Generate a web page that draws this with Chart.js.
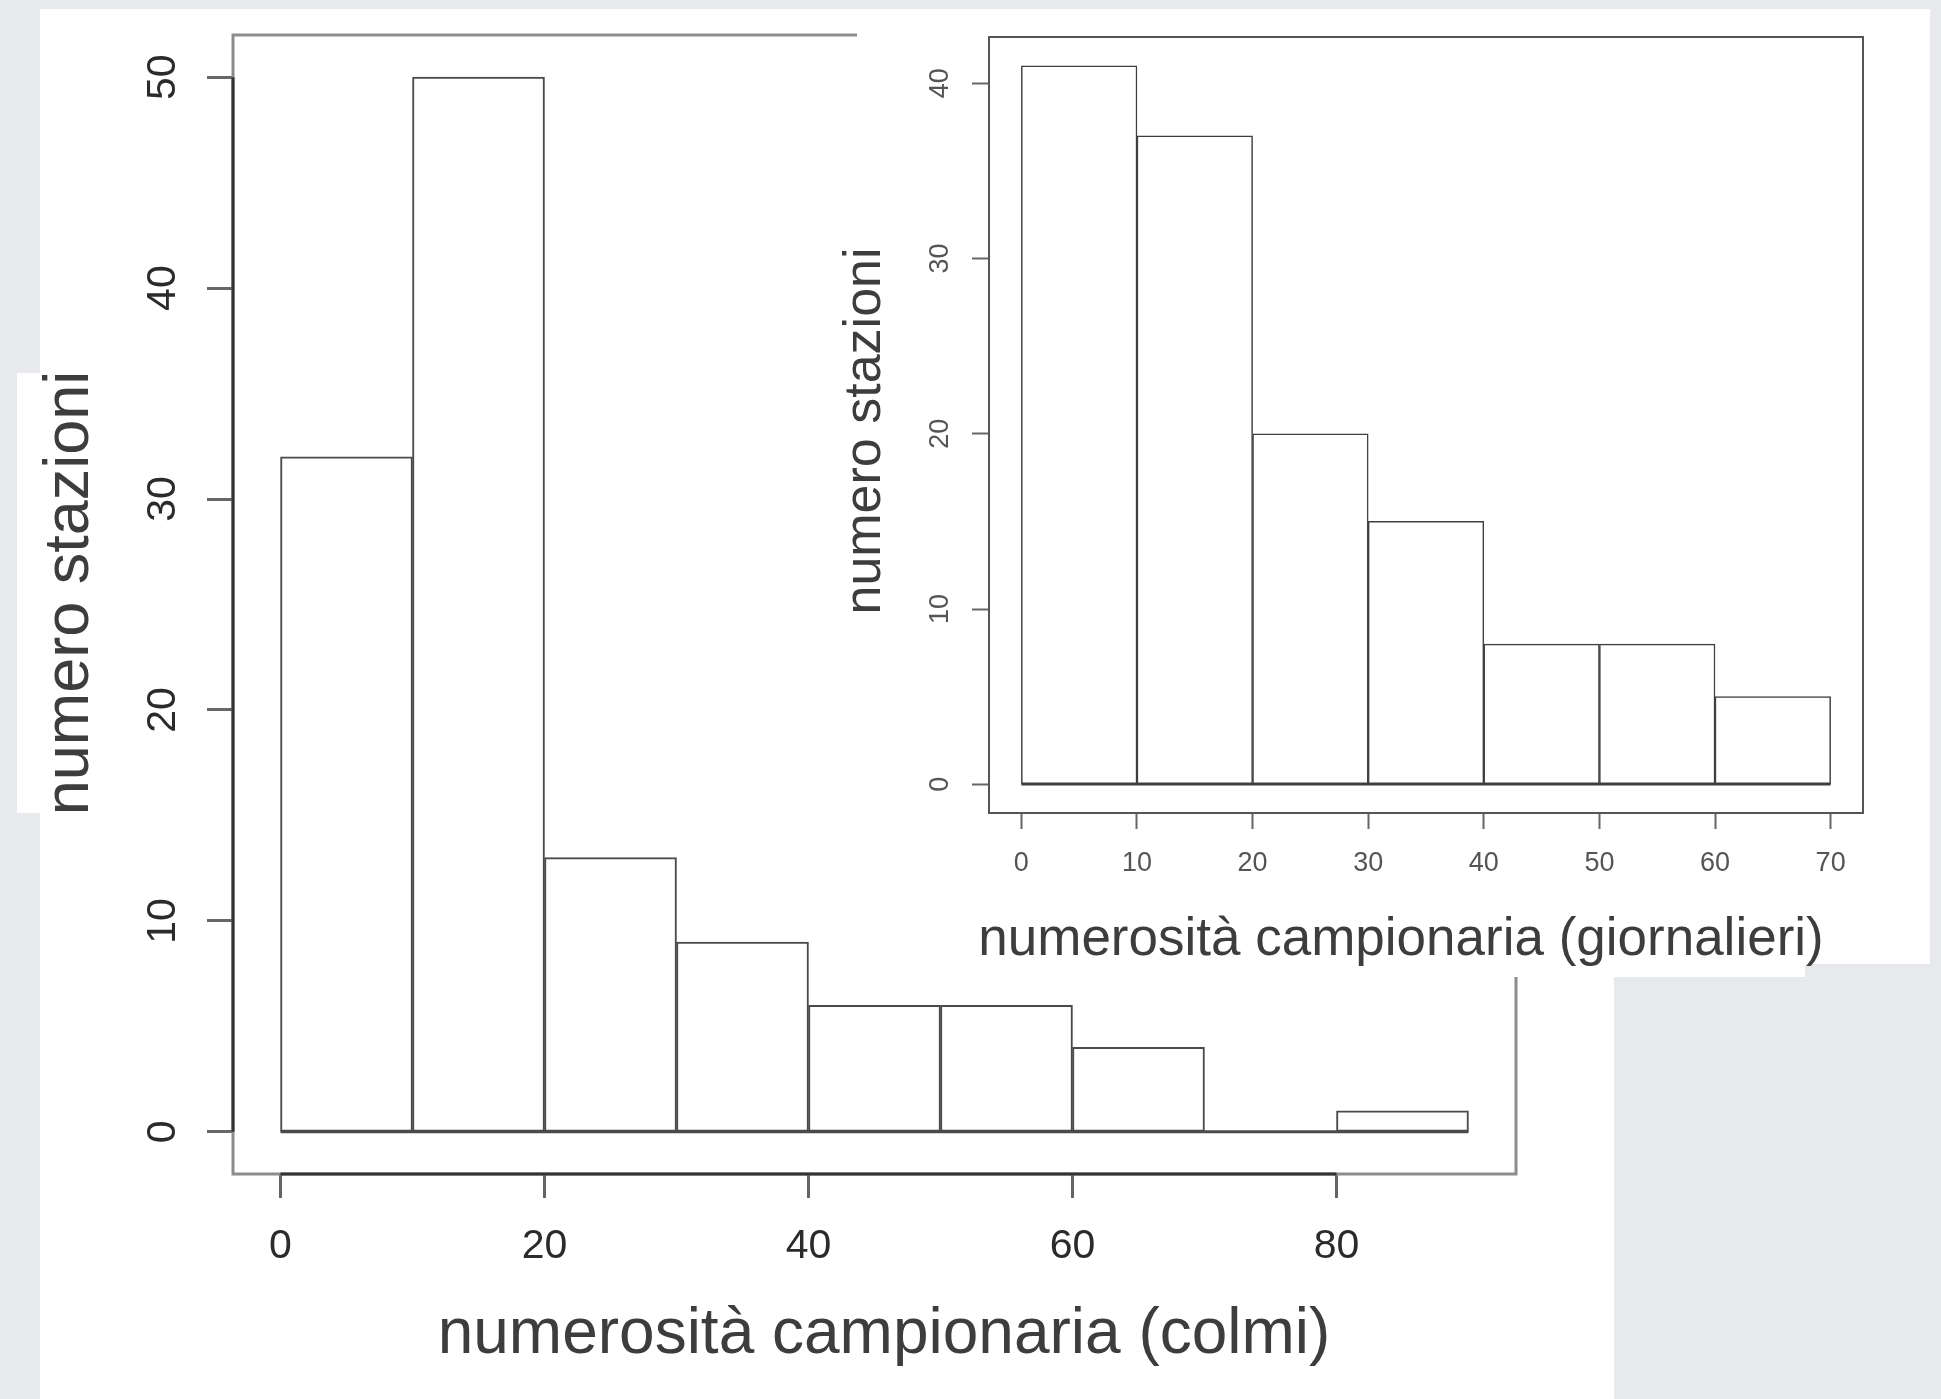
<!DOCTYPE html>
<html lang="it">
  <head>
    <meta charset="UTF-8" />
    <title>Numerosità campionaria</title>
    <script src="https://cdn.jsdelivr.net/npm/chart.js"></script>
    <style>
      body {
        margin: 0;
        width: 1941px;
        height: 1399px;
        overflow: hidden;
        position: relative;
        background: #e7e9ec;
      }
      .pannello {
        position: absolute;
        background: #fff;
      }
      #pannelloColmi { left: 40px; top: 9px; width: 1574px; height: 1390px; }
      #fasciaTitoloY { left: 17px; top: 373px; width: 30px; height: 440px; }
      #pannelloGiornalieri { left: 857px; top: 9px; width: 1073px; height: 955px; }
      #bordoGiornalieri { left: 857px; top: 964px; width: 948px; height: 13px; }
      canvas { position: absolute; }
      #colmiChart { left: 0; top: 0; }
      #giornalieriChart { left: 830px; top: 9px; }
    </style>
  </head>
  <body>
    <div class="pannello" id="pannelloColmi"></div>
    <div class="pannello" id="fasciaTitoloY"></div>
    <canvas id="colmiChart" width="1941" height="1399"></canvas>
    <div class="pannello" id="pannelloGiornalieri"></div>
    <div class="pannello" id="bordoGiornalieri"></div>
    <canvas id="giornalieriChart" width="1100" height="968"></canvas>

    <script>
      // istogramma colmi
      const colmiEdges = [0, 10, 20, 30, 40, 50, 60, 70, 80, 90];
      const colmiCounts = [32, 50, 13, 9, 6, 6, 4, 0, 1];
      const colmiXTicks = [0, 20, 40, 60, 80];
      const colmiYTicks = [0, 10, 20, 30, 40, 50];

      // istogramma giornalieri
      const giornEdges = [0, 10, 20, 30, 40, 50, 60, 70];
      const giornCounts = [41, 37, 20, 15, 8, 8, 5];
      const giornXTicks = [0, 10, 20, 30, 40, 50, 60, 70];
      const giornYTicks = [0, 10, 20, 30, 40];

      const FONT = "'Liberation Sans', Arial, Helvetica, sans-serif";

      function istogramma(id, cfg) {
        const punti = cfg.counts.map((n, i) => ({
          x: (cfg.edges[i] + cfg.edges[i + 1]) / 2,
          y: n,
        }));
        const lo = cfg.edges[0];
        const hi = cfg.edges[cfg.edges.length - 1];
        const top = Math.max(...cfg.counts);
        // come in R: range allargato del 4%
        const dx = (hi - lo) * 0.04;
        const dy = top * 0.04;

        const cornice = {
          id: "cornice",
          beforeDatasetsDraw(chart) {
            const { ctx, chartArea: a, scales } = chart;
            ctx.save();
            ctx.strokeStyle = cfg.boxColor;
            ctx.lineWidth = cfg.boxWidth;
            ctx.strokeRect(a.left, a.top, a.right - a.left, a.bottom - a.top);
            // linee degli assi, dal primo all'ultimo tick
            ctx.strokeStyle = cfg.axisColor;
            ctx.beginPath();
            ctx.moveTo(a.left, scales.y.getPixelForValue(cfg.yTicks[0]));
            ctx.lineTo(a.left, scales.y.getPixelForValue(cfg.yTicks[cfg.yTicks.length - 1]));
            ctx.moveTo(scales.x.getPixelForValue(cfg.xTicks[0]), a.bottom);
            ctx.lineTo(scales.x.getPixelForValue(cfg.xTicks[cfg.xTicks.length - 1]), a.bottom);
            ctx.stroke();
            ctx.restore();
          },
          afterDatasetsDraw(chart) {
            const { ctx, scales } = chart;
            ctx.save();
            // base comune delle barre (serve per le classi vuote)
            const y0 = scales.y.getPixelForValue(0);
            ctx.strokeStyle = cfg.barColor;
            ctx.lineWidth = cfg.barWidth * 1.5;
            ctx.beginPath();
            ctx.moveTo(scales.x.getPixelForValue(lo), y0);
            ctx.lineTo(scales.x.getPixelForValue(hi), y0);
            ctx.stroke();

            // titoli degli assi
            ctx.fillStyle = "#3d3d3d";
            ctx.textAlign = "center";
            ctx.textBaseline = "alphabetic";
            const tx = cfg.titles.x;
            ctx.font = tx.size + "px " + FONT;
            ctx.fillText(tx.text, tx.cx, tx.base);
            const ty = cfg.titles.y;
            ctx.font = ty.size + "px " + FONT;
            ctx.translate(ty.base, ty.cy);
            ctx.rotate(-Math.PI / 2);
            ctx.fillText(ty.text, 0, 0);
            ctx.restore();
          },
        };

        return new Chart(document.getElementById(id), {
          type: "bar",
          data: {
            datasets: [
              {
                data: punti,
                backgroundColor: "#ffffff",
                borderColor: cfg.barColor,
                borderWidth: cfg.barWidth,
                borderSkipped: false,
                barPercentage: 1,
                categoryPercentage: 1,
              },
            ],
          },
          options: {
            responsive: false,
            animation: false,
            events: [],
            layout: { padding: cfg.padding },
            plugins: {
              legend: { display: false },
              tooltip: { enabled: false },
            },
            scales: {
              x: {
                type: "linear",
                min: lo - dx,
                max: hi + dx,
                offset: false,
                afterBuildTicks: (s) => {
                  s.ticks = cfg.xTicks.map((v) => ({ value: v }));
                },
                afterFit: (s) => {
                  s.height = cfg.xAxisHeight;
                  s.paddingLeft = 0;
                  s.paddingRight = 0;
                },
                border: { display: false },
                grid: {
                  offset: false,
                  drawOnChartArea: false,
                  tickLength: cfg.xTickLen,
                  tickColor: cfg.tickColor,
                  tickWidth: cfg.tickWidth,
                },
                ticks: {
                  autoSkip: false,
                  maxRotation: 0,
                  padding: cfg.xTickPad,
                  color: cfg.labelColor,
                  font: { family: FONT, size: cfg.tickFont },
                },
              },
              y: {
                type: "linear",
                min: -dy,
                max: top + dy,
                afterBuildTicks: (s) => {
                  s.ticks = cfg.yTicks.map((v) => ({ value: v }));
                },
                afterFit: (s) => {
                  s.width = cfg.yAxisWidth;
                  s.paddingTop = 0;
                  s.paddingBottom = 0;
                },
                border: { display: false },
                grid: {
                  offset: false,
                  drawOnChartArea: false,
                  tickLength: cfg.yTickLen,
                  tickColor: cfg.tickColor,
                  tickWidth: cfg.tickWidth,
                },
                ticks: {
                  minRotation: 90,
                  maxRotation: 90,
                  crossAlign: "center",
                  padding: cfg.yTickPad,
                  color: cfg.labelColor,
                  font: { family: FONT, size: cfg.tickFont },
                },
              },
            },
          },
          plugins: [cornice],
        });
      }

      document.addEventListener("DOMContentLoaded", () => {
        istogramma("colmiChart", {
          edges: colmiEdges,
          counts: colmiCounts,
          xTicks: colmiXTicks,
          yTicks: colmiYTicks,
          padding: { left: 100, top: 35, right: 425, bottom: 0 },
          yAxisWidth: 133,
          xAxisHeight: 225,
          xTickLen: 24,
          yTickLen: 26,
          xTickPad: 24,
          yTickPad: 21,
          tickFont: 41,
          tickColor: "#666666",
          tickWidth: 3,
          labelColor: "#2b2b2b",
          barColor: "#4a4a4a",
          barWidth: 2,
          boxColor: "#8c8c8c",
          boxWidth: 3,
          axisColor: "#333333",
          titles: {
            x: { text: "numerosità campionaria (colmi)", cx: 884, base: 1353, size: 64 },
            y: { text: "numero stazioni", base: 88, cy: 593, size: 63 },
          },
        });

        istogramma("giornalieriChart", {
          edges: giornEdges,
          counts: giornCounts,
          xTicks: giornXTicks,
          yTicks: giornYTicks,
          padding: { left: 60, top: 28, right: 67, bottom: 0 },
          yAxisWidth: 99,
          xAxisHeight: 164,
          xTickLen: 16,
          yTickLen: 17,
          xTickPad: 18,
          yTickPad: 16,
          tickFont: 27,
          tickColor: "#666666",
          tickWidth: 2,
          labelColor: "#555555",
          barColor: "#3f3f3f",
          barWidth: 1.5,
          boxColor: "#555555",
          boxWidth: 2,
          axisColor: "#555555",
          titles: {
            x: { text: "numerosità campionaria (giornalieri)", cx: 571, base: 946, size: 53 },
            y: { text: "numero stazioni", base: 50, cy: 422, size: 52 },
          },
        });
      });
    </script>
  </body>
</html>
